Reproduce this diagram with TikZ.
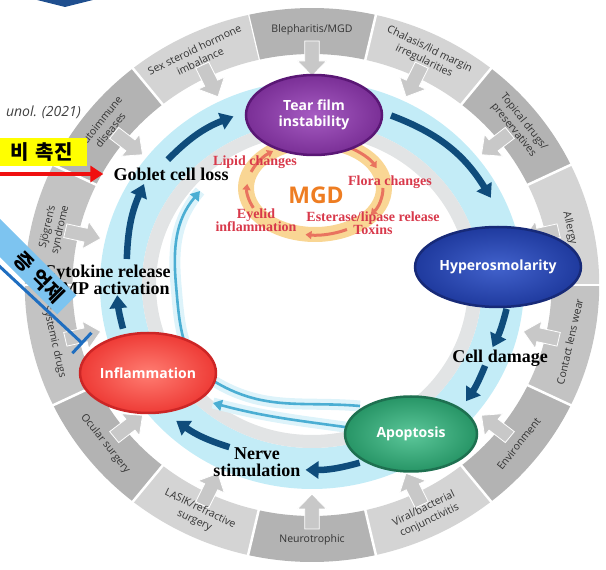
\documentclass[tikz,border=0pt]{standalone}
\usepackage{fontspec}
\setmainfont{Liberation Serif}
\setsansfont{Open Sans}
\newfontfamily\korfont{Noto Sans CJK KR}
\usetikzlibrary{arrows.meta,shapes.geometric}

\definecolor{ringdark}{HTML}{B3B3B3}
\definecolor{ringmid}{HTML}{C3C3C3}
\definecolor{ringlight}{HTML}{D4D4D4}
\definecolor{pushgray}{HTML}{C8C8C8}
\definecolor{causetext}{HTML}{333333}
\definecolor{bandblue}{HTML}{C3ECF7}
\definecolor{shadowgray}{HTML}{E2E4E5}
\definecolor{cycblue}{HTML}{0F4C7B}
\definecolor{thinblue}{HTML}{4BAED3}
\definecolor{halo}{HTML}{DDF3FA}
\definecolor{mgdring}{HTML}{F9D694}
\definecolor{mgdarrow}{HTML}{E9735F}
\definecolor{mgdred}{HTML}{D8394B}
\definecolor{mgdorange}{HTML}{EE7D22}
\definecolor{tearlight}{HTML}{A65CC2}
\definecolor{tearmid}{HTML}{7A2F96}
\definecolor{teardark}{HTML}{5A1775}
\definecolor{hyperlight}{HTML}{4262CC}
\definecolor{hypermid}{HTML}{1F3A9E}
\definecolor{hyperdark}{HTML}{172A78}
\definecolor{apoplight}{HTML}{5CC79A}
\definecolor{apopmid}{HTML}{279566}
\definecolor{apopdark}{HTML}{1E7050}
\definecolor{infllight}{HTML}{FF7D72}
\definecolor{inflmid}{HTML}{EE3B36}
\definecolor{infldark}{HTML}{CC2626}
\definecolor{koryellow}{HTML}{FFFF00}
\definecolor{korblue}{HTML}{7DC4F0}
\definecolor{korred}{HTML}{F01010}
\definecolor{korline}{HTML}{1F6EC0}
\definecolor{citegray}{HTML}{404040}
\definecolor{headblue}{HTML}{1F4F8F}

\begin{document}
\begin{tikzpicture}[
    x=1pt, y=1pt,
    cause/.style={align=center, text=causetext, inner sep=0pt,
      font=\sffamily\fontsize{10.5}{13}\selectfont},
    push/.style={fill=pushgray, draw=white, line width=0.8pt},
    stage/.style={ellipse, line width=2.5pt, inner sep=0pt, align=center,
      text=white, font=\sffamily\bfseries\fontsize{14}{16}\selectfont},
    phase/.style={align=center, inner sep=1pt,
      font=\bfseries\fontsize{18}{17}\selectfont},
    mgdtext/.style={text=mgdred, align=center, inner sep=0pt,
      font=\bfseries\fontsize{14}{13}\selectfont},
    cyc/.style={cycblue, line width=6.5pt, -{Triangle[length=13pt,width=17pt]}},
    back/.style={thinblue, line width=2.6pt, -{Triangle[length=9pt,width=11pt]},
      preaction={draw=halo, line width=11pt, -}},
    mgdflow/.style={mgdarrow, line width=3pt, -{Triangle[length=6pt,width=8pt]}},
    kortext/.style={font=\korfont\bfseries\fontsize{20}{20}\selectfont}
  ]
  \useasboundingbox (-312,-285) rectangle (294,285);

  \begin{scope}[xscale=1.037]
    \foreach \col/\lab [count=\k from 0] in {
        ringdark/{Blepharitis/MGD},
        ringlight/{Chalasis/lid margin\\irregularities},
        ringdark/{Topical drugs/\\preservatives},
        ringlight/{Allergy},
        ringmid/{Contact lens wear},
        ringdark/{Environment},
        ringlight/{Viral/bacterial\\conjunctivitis},
        ringdark/{Neurotrophic},
        ringlight/{LASIK/refractive\\surgery},
        ringdark/{Ocular surgery},
        ringmid/{Systemic drugs},
        ringmid/{Sjögren’s\\syndrome},
        ringdark/{autoimmune\\diseases},
        ringlight/{Sex steroid hormone\\imbalance}} {
      \pgfmathsetmacro\a{90-\k*360/14}
      \pgfmathsetmacro\rot{sin(\a)>0 ? \a-90 : \a+90}
      \fill[\col] (\a-12.857:277) arc[start angle=\a-12.857, end angle=\a+12.857, radius=277]
        -- (\a+12.857:231) arc[start angle=\a+12.857, end angle=\a-12.857, radius=231] -- cycle;
      \draw[white, line width=2.5pt] (\a+12.857:229) -- (\a+12.857:279);
      \fill[push, rotate=\a] (244,7) -- (224,7) -- (224,14) -- (209,0)
        -- (224,-14) -- (224,-7) -- (244,-7) -- cycle;
      \node (cause\k) [cause, rotate=\rot] at (\a:255) {\lab};
    }
  \end{scope}

  \fill[bandblue, even odd rule] (0,0) ellipse[x radius=212, y radius=204]
    (0,0) ellipse[x radius=170, y radius=163];
  \fill[shadowgray, even odd rule] (0,0) ellipse[x radius=170, y radius=163]
    (0,0) ellipse[x radius=156, y radius=150];

  \coordinate (sA) at (48,-121);
  \coordinate (mA) at (-95,-98);
  \coordinate (lA) at (-136,0);
  \coordinate (eA) at (-112,94);
  \coordinate (sB) at (40,-143);
  \coordinate (eB) at (-99,-118);
  \draw[back] (sA) to[out=175,in=-30] (mA) to[out=150,in=-85] (lA) to[out=95,in=-130] (eA);
  \draw[back] (sB) to[out=172,in=-15] (eB);

  \foreach \s/\r/\e/\q/\b [count=\i] in {139/191/115/186/12, 65/187/26/199/19,
      -7/196/-19/191/6, -25/191/-37/193/6, -75/184/-92/185/8,
      -117/182/-135/192/9, -167/194/-177/195/5, 172/187/149/196/11} {
    \coordinate (cs\i) at (\s:\r);
    \coordinate (ce\i) at (\e:\q);
    \draw[cyc] (cs\i) to[bend left=\b] (ce\i);
  }

  \fill[mgdring, even odd rule] (3,97) ellipse[x radius=77, y radius=54]
    (3,97) ellipse[x radius=61, y radius=39];
  \foreach \s/\e in {205/175, 160/128, 60/25, 0/-35, -62/-98}
    \draw[mgdflow] ([shift={(3,97)}]\s:68 and 47) arc[start angle=\s, end angle=\e, x radius=68, y radius=47];

  \node (tear) [stage, draw=teardark, inner color=tearlight, outer color=tearmid,
    minimum width=136pt, minimum height=80pt] at (2,170) {Tear film\\instability};
  \node (hyper) [stage, draw=hyperdark, inner color=hyperlight, outer color=hypermid,
    minimum width=130pt, minimum height=80pt] at (186,18) {Hyperosmolarity};
  \node (apop) [stage, draw=apopdark, inner color=apoplight, outer color=apopmid,
    minimum width=132pt, minimum height=75pt] at (99,-149) {Apoptosis};
  \node (infl) [stage, draw=infldark, inner color=infllight, outer color=inflmid,
    minimum width=132pt, minimum height=80pt] at (-164,-88) {Inflammation};

  \node (goblet) [phase] at (-141,111) {Goblet cell loss};
  \node (cytokine) [phase] at (-205,5) {Cytokine release\\MMP activation};
  \node (damage) [phase] at (188,-73) {Cell damage};
  \node (nerve) [phase] at (-55,-177) {Nerve\\stimulation};

  \node (lipid) [mgdtext] at (-57,123) {Lipid changes};
  \node (flora) [mgdtext] at (78,103) {Flora changes};
  \node (eyelid) [mgdtext] at (-56,65) {Eyelid\\inflammation};
  \node (esterase) [mgdtext] at (61,62) {Esterase/lipase release\\Toxins};
  \node (mgd) [text=mgdorange, font=\sffamily\bfseries\fontsize{23}{23}\selectfont] at (4,90) {MGD};

  \fill[headblue] (-275,285) -- (-219,285) -- (-247,278) -- cycle;
  \node (cite) [anchor=east, text=citegray, inner sep=0pt,
    font=\sffamily\itshape\fontsize{14}{16}\selectfont] at (-231,173) {unol. (2021)};

  \node (promote) [kortext, anchor=east, fill=koryellow, minimum height=28pt,
    text width=80pt, align=right, inner xsep=14pt, inner ysep=0pt] at (-225,133) {비 촉진};
  \coordinate (rS) at (-320,111);
  \draw[korred, line width=4pt, shorten >=9pt, -{Triangle[length=13pt,width=16pt]}] (rS) -- (goblet.west);

  \coordinate (tS) at (-330,35);
  \coordinate (tE) at (-229,-59);
  \draw[korline, line width=3pt, -{Bar[width=28pt,line width=3pt]}] (tS) -- (tE);
  \node (suppress) [kortext, anchor=east, rotate=-45, fill=korblue, minimum height=27pt,
    text width=110pt, align=right, inner xsep=8pt, inner ysep=0pt,
    font=\korfont\bfseries\fontsize{20}{20}\selectfont] at (-245,-20) {증 억제};
\end{tikzpicture}
\end{document}
